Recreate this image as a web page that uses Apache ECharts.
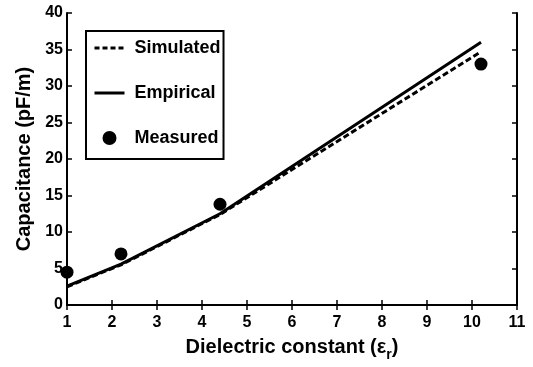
<!DOCTYPE html>
<html>
<head>
<meta charset="utf-8">
<script src="https://cdn.jsdelivr.net/npm/echarts@6/dist/echarts.min.js"></script>
<style>html,body{margin:0;padding:0;background:#fff;}#c{width:533px;height:367px;}</style>
</head>
<body>
<div id="c"></div>
<script>
var epsLine = [1, 2.2, 4.4, 10.2];
var simulated = [2.5, 5.5, 12.4, 34.7];
var empirical = [2.6, 5.6, 12.5, 36.0];
var epsMeasured = [1, 2.2, 4.4, 10.2];
var measured = [4.5, 7.0, 13.8, 33.0];
var seriesNames = ['Simulated', 'Empirical', 'Measured'];
var xTitle = 'Dielectric constant (ε';
var xTitleSub = 'r';
var yTitle = 'Capacitance (pF/m)';

function pairs(xs, ys) { return xs.map(function (x, i) { return [x, ys[i]]; }); }

var FONT = '"Liberation Sans", Arial, sans-serif';
var chart = echarts.init(document.getElementById('c'), null, {renderer: 'canvas'});
var axisCommon = {
  axisLine: {lineStyle: {color: '#000', width: 2}},
  axisTick: {inside: true, length: 5, lineStyle: {color: '#000', width: 1.5}},
  splitLine: {show: false}
};
chart.setOption({
  animation: false,
  backgroundColor: '#fff',
  grid: {left: 67, right: 16, top: 13, bottom: 61},
  legend: {
    orient: 'vertical', left: 86, top: 31,
    data: [
      {name: seriesNames[0], itemStyle: {opacity: 0}, lineStyle: {width: 3, type: [5, 3]}},
      {name: seriesNames[1], itemStyle: {opacity: 0}, lineStyle: {width: 3}},
      {name: seriesNames[2]}
    ],
    borderColor: '#000', borderWidth: 2,
    padding: [8, 3, 12, 7],
    itemGap: 27, itemWidth: 30, itemHeight: 14,
    textStyle: {fontFamily: FONT, fontWeight: 'bold', fontSize: 18, color: '#000', padding: [0, 0, 0, 5]}
  },
  xAxis: [
    Object.assign({
      type: 'value', min: 1, max: 11, interval: 1,
      name: '{a|' + xTitle + '}{s|' + xTitleSub + '}{a|)}',
      nameLocation: 'middle', nameGap: 27,
      nameTextStyle: {rich: {
        a: {fontFamily: FONT, fontWeight: 'bold', fontSize: 20, color: '#000'},
        s: {fontFamily: FONT, fontWeight: 'bold', fontSize: 14, color: '#000', padding: [16, 0, 0, 0]}
      }},
      axisLabel: {fontFamily: FONT, fontWeight: 'bold', fontSize: 16, color: '#000', margin: 10}
    }, axisCommon),
    Object.assign({
      type: 'value', min: 1, max: 11, interval: 1, position: 'top',
      axisLabel: {show: false}
    }, axisCommon)
  ],
  yAxis: [
    Object.assign({
      type: 'value', min: 0, max: 40, interval: 5,
      name: yTitle, nameLocation: 'middle', nameGap: 33, nameRotate: 90,
      nameTextStyle: {fontFamily: FONT, fontWeight: 'bold', fontSize: 20, color: '#000'},
      axisLabel: {fontFamily: FONT, fontWeight: 'bold', fontSize: 16, color: '#000', margin: 4}
    }, axisCommon),
    Object.assign({
      type: 'value', min: 0, max: 40, interval: 5, position: 'right',
      axisLabel: {show: false}
    }, axisCommon)
  ],
  series: [
    {name: seriesNames[0], type: 'line', data: pairs(epsLine, simulated), symbol: 'none',
     lineStyle: {color: '#000', width: 3, type: [6, 3]}, itemStyle: {color: '#000'}, z: 3},
    {name: seriesNames[1], type: 'line', data: pairs(epsLine, empirical), symbol: 'none',
     lineStyle: {color: '#000', width: 3, type: 'solid'}, itemStyle: {color: '#000'}, z: 2},
    {name: seriesNames[2], type: 'scatter', data: pairs(epsMeasured, measured), symbol: 'circle',
     symbolSize: 13, itemStyle: {color: '#000', opacity: 1}, z: 4}
  ]
});
</script>
</body>
</html>
